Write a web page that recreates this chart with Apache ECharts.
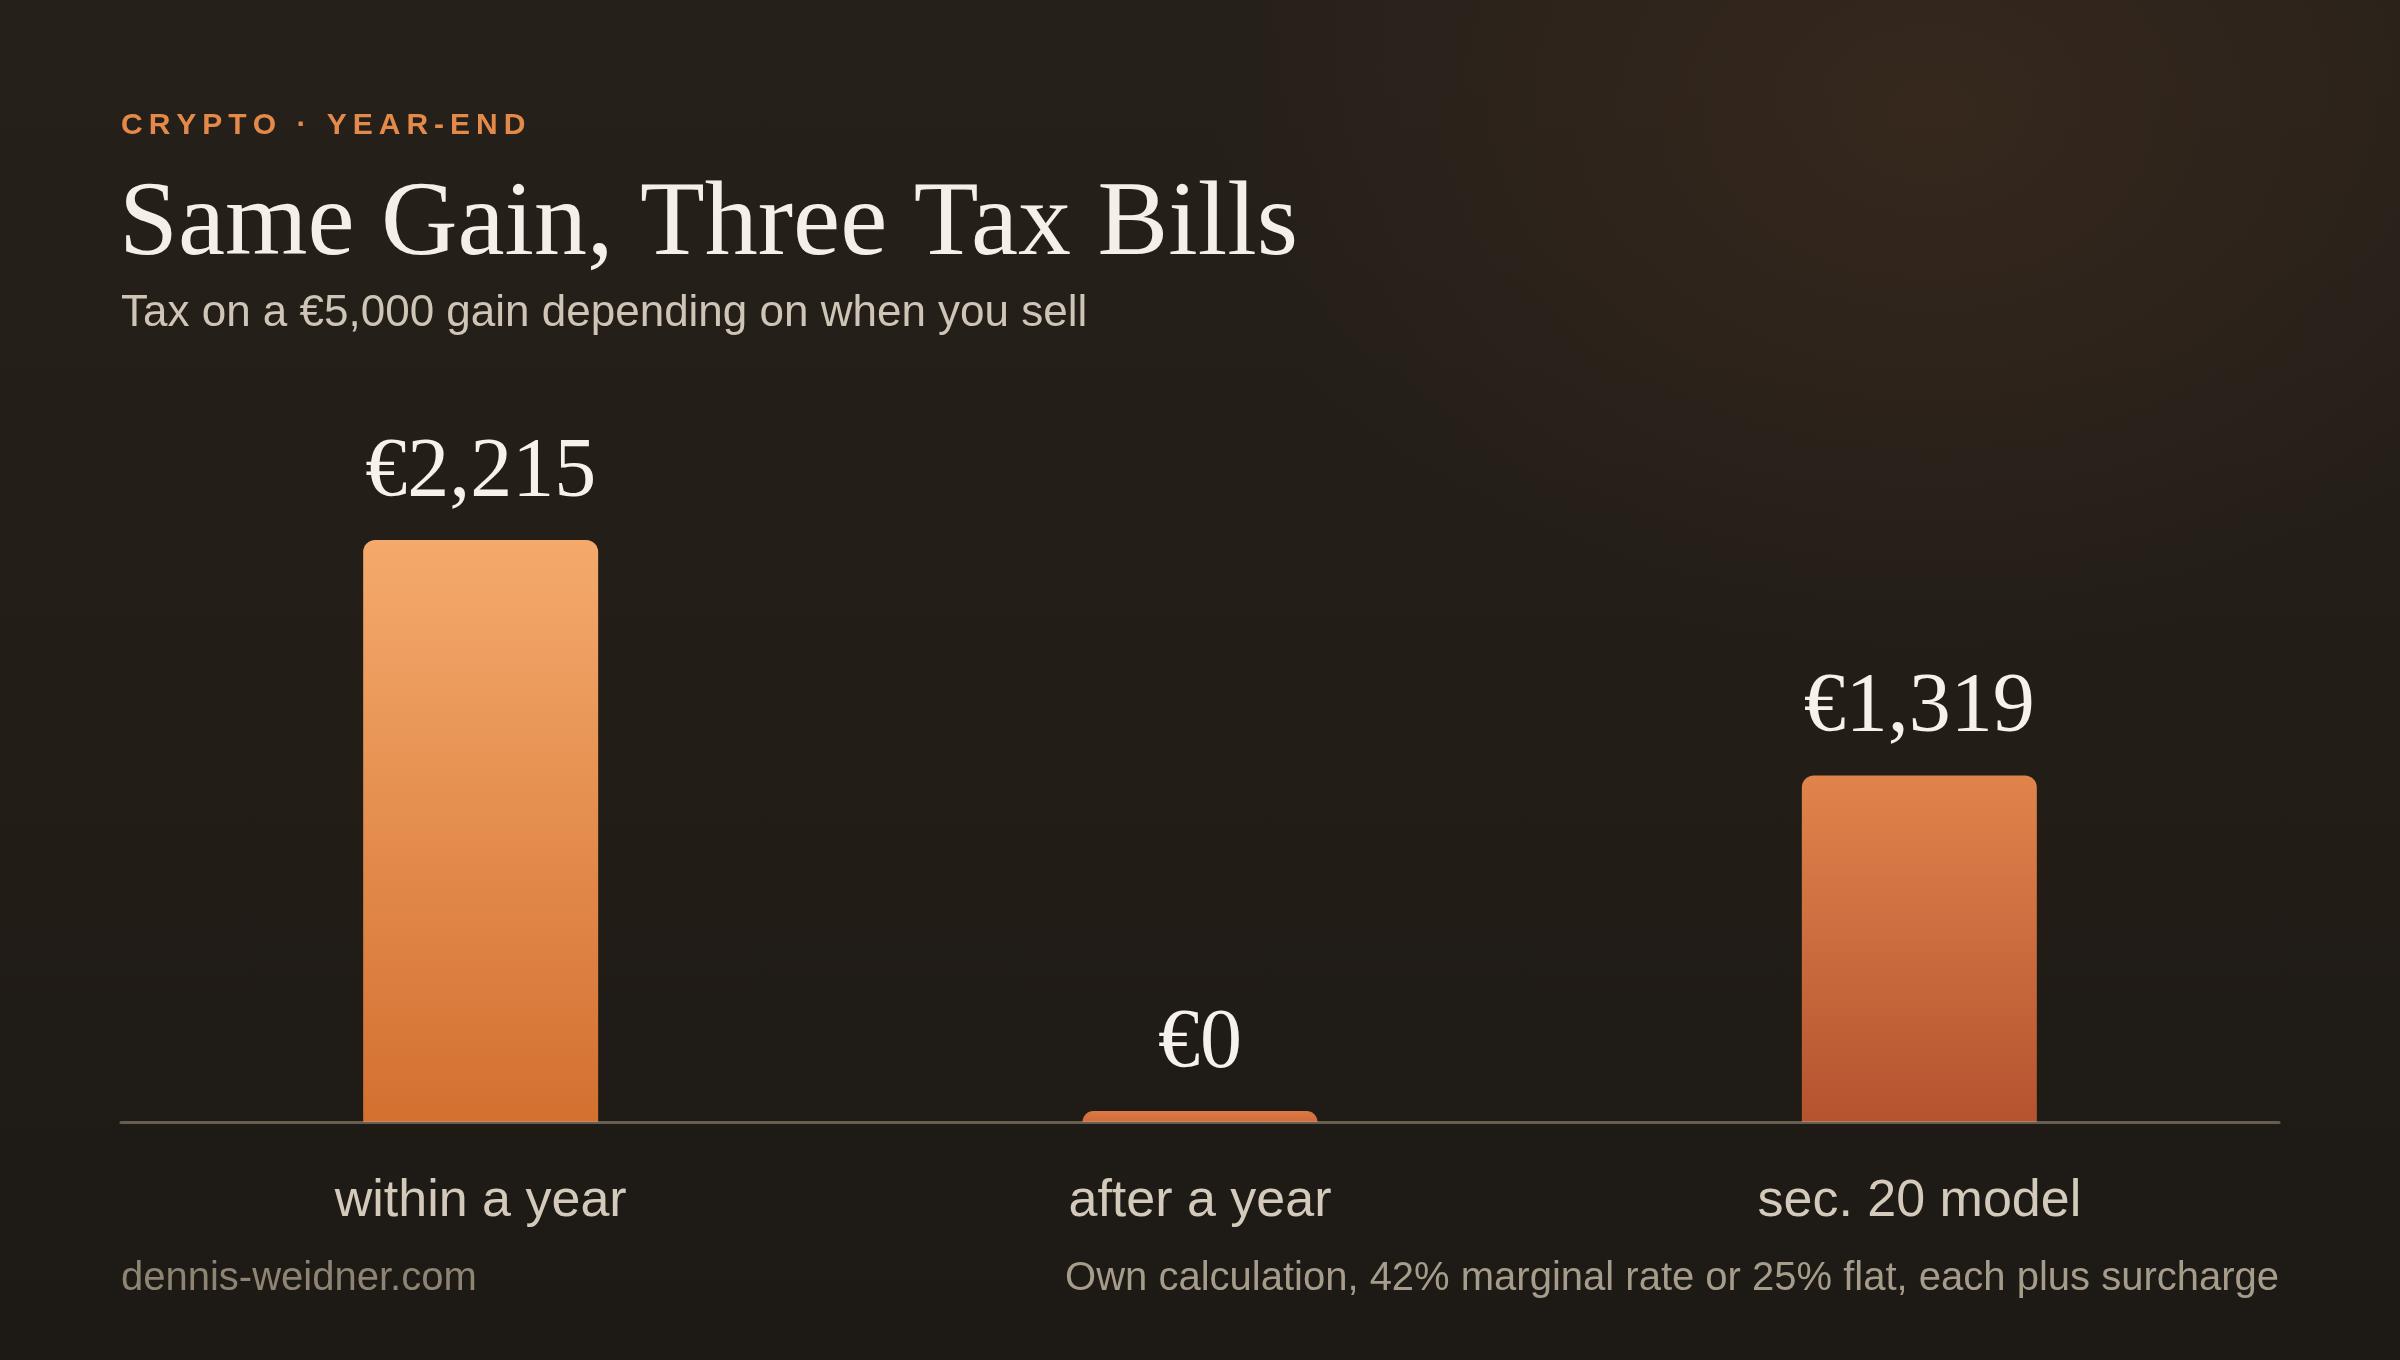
<!DOCTYPE html>
<html>
<head>
<meta charset="utf-8">
<script src="https://cdn.jsdelivr.net/npm/echarts@6/dist/echarts.min.js"></script>
<style>
  html, body { margin: 0; padding: 0; }
  body {
    width: 2400px; height: 1360px; overflow: hidden;
    background:
      radial-gradient(ellipse 720px 540px at 1930px 110px, rgba(58,42,30,0.8), rgba(58,42,30,0) 100%),
      linear-gradient(180deg, #26201a 0%, #221d17 55%, #1d1914 100%);
  }
  #chart { width: 2400px; height: 1360px; }
</style>
</head>
<body>
<div id="chart"></div>
<script>
var categories = ['within a year', 'after a year', 'sec. 20 model'];
var taxValues = [2215, 0, 1319];
var barTopColors = ['#F4AA6C', '#DB7A45', '#E0844C'];
var barBottomColors = ['#D37030', '#D06A3A', '#B4532F'];

var eyebrow = 'CRYPTO · YEAR-END'.split('').join('\u2009');

var myChart = echarts.init(document.getElementById('chart'), null, { renderer: 'canvas' });

var barData = taxValues.map(function (v, i) {
    return {
        value: v,
        itemStyle: {
            color: new echarts.graphic.LinearGradient(0, 0, 0, 1, [
                { offset: 0, color: barTopColors[i] },
                { offset: 1, color: barBottomColors[i] }
            ])
        }
    };
});

var option = {
    backgroundColor: 'transparent',
    animation: false,
    title: [
        {
            text: eyebrow,
            left: 121, top: 111, padding: 0,
            textStyle: { color: '#E3894A', fontFamily: 'Liberation Sans', fontWeight: 'bold', fontSize: 30 }
        },
        {
            text: 'Same Gain, Three Tax Bills',
            left: 119, top: 173, padding: 0,
            textStyle: { color: '#F4EFE8', fontFamily: 'Liberation Serif', fontWeight: 'normal', fontSize: 106 }
        },
        {
            text: 'Tax on a €5,000 gain depending on when you sell',
            left: 121, top: 292, padding: 0,
            textStyle: { color: '#CFC5B6', fontFamily: 'Liberation Sans', fontWeight: 'normal', fontSize: 44 }
        },
        {
            text: 'dennis-weidner.com',
            left: 121, top: 1259, padding: 0,
            textStyle: { color: '#8E8474', fontFamily: 'Liberation Sans', fontWeight: 'normal', fontSize: 40 }
        },
        {
            text: 'Own calculation, 42% marginal rate or 25% flat, each plus surcharge',
            right: 121, top: 1259, padding: 0,
            textStyle: { color: '#A69C8C', fontFamily: 'Liberation Sans', fontWeight: 'normal', fontSize: 40 }
        }
    ],
    grid: { left: 121, right: 121, top: 540, bottom: 238, containLabel: false },
    xAxis: {
        type: 'category',
        data: categories,
        z: 5,
        axisLine: { show: true, lineStyle: { color: 'rgba(190,178,158,0.45)', width: 3 } },
        axisTick: { show: false },
        axisLabel: {
            margin: 54,
            color: '#D4CABB',
            fontFamily: 'Liberation Sans',
            fontSize: 52
        },
        splitLine: { show: false }
    },
    yAxis: {
        type: 'value',
        min: 0,
        max: 'dataMax',
        show: false,
        splitLine: { show: false }
    },
    series: [
        {
            type: 'bar',
            data: barData,
            barWidth: 235,
            barMinHeight: 11,
            itemStyle: { borderRadius: [12, 12, 0, 0] },
            label: {
                show: true,
                position: 'top',
                distance: 24,
                color: '#F6F1EA',
                fontFamily: 'Liberation Serif',
                fontSize: 84,
                formatter: function (p) {
                    return '€' + p.value.toLocaleString('en-US');
                }
            }
        }
    ]
};
myChart.setOption(option);
</script>
</body>
</html>
